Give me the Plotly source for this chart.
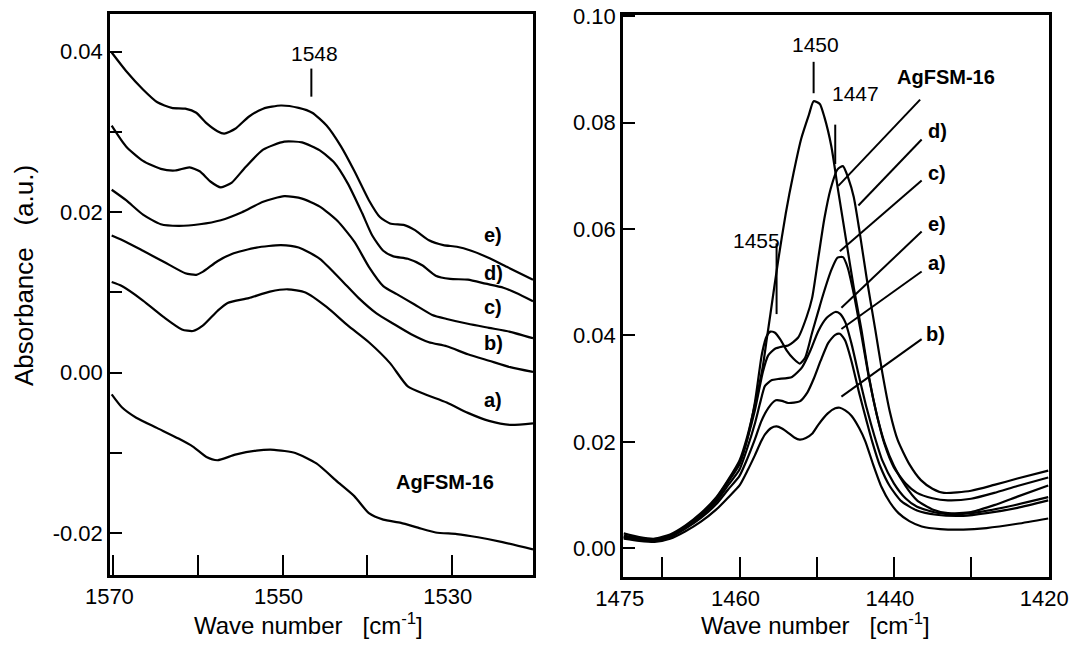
import plotly.graph_objects as go

################################## Data ##################################
# left panel (1570 - 1520 cm-1)
left_e_x = [1570.2, 1568.5, 1566.5, 1564.8, 1563.1, 1561.5, 1560.2, 1559.0, 1557.7, 1556.9, 1555.6, 1554.0, 1552.3, 1550.2, 1548.1, 1546.5, 1544.8, 1543.1, 1541.5, 1539.8, 1538.5, 1537.3, 1535.6, 1534.4, 1532.7, 1531.0, 1529.4, 1527.7, 1525.6, 1523.5, 1520.4]
left_e_y = [0.0399, 0.0376, 0.0353, 0.0337, 0.0330, 0.0329, 0.0324, 0.0311, 0.0301, 0.0298, 0.0304, 0.0319, 0.0329, 0.0333, 0.0330, 0.0324, 0.0308, 0.0282, 0.0251, 0.0215, 0.0194, 0.0186, 0.0184, 0.0178, 0.0165, 0.0159, 0.0157, 0.0152, 0.0143, 0.0132, 0.0116]

left_d_x = [1570.2, 1568.5, 1566.5, 1564.4, 1562.7, 1561.0, 1559.8, 1558.5, 1557.3, 1556.0, 1554.4, 1552.3, 1549.8, 1547.7, 1545.6, 1543.9, 1542.3, 1540.6, 1539.4, 1538.1, 1536.9, 1535.2, 1533.5, 1531.9, 1530.2, 1528.1, 1526.0, 1523.9, 1522.3, 1520.4]
left_d_y = [0.0308, 0.0282, 0.0264, 0.0254, 0.0252, 0.0256, 0.0251, 0.0238, 0.0231, 0.0237, 0.0256, 0.0278, 0.0288, 0.0287, 0.0277, 0.0262, 0.0236, 0.0199, 0.0171, 0.0152, 0.0145, 0.0142, 0.0134, 0.0121, 0.0117, 0.0116, 0.0111, 0.0106, 0.0099, 0.0089]

left_c_x = [1570.2, 1568.5, 1566.5, 1564.4, 1562.3, 1559.8, 1557.3, 1554.8, 1552.3, 1549.8, 1547.7, 1545.6, 1543.5, 1541.5, 1539.8, 1538.1, 1536.5, 1534.4, 1532.3, 1530.6, 1528.1, 1525.6, 1523.1, 1520.4]
left_c_y = [0.0228, 0.0215, 0.0197, 0.0185, 0.0183, 0.0185, 0.0190, 0.0200, 0.0213, 0.0220, 0.0217, 0.0207, 0.0189, 0.0163, 0.0132, 0.0108, 0.0098, 0.0085, 0.0072, 0.0067, 0.0061, 0.0056, 0.0051, 0.0043]

left_b_x = [1570.2, 1568.5, 1566.5, 1564.0, 1561.5, 1560.2, 1559.4, 1557.7, 1556.0, 1553.1, 1550.2, 1548.1, 1545.6, 1543.1, 1541.0, 1538.9, 1536.9, 1534.8, 1532.7, 1530.6, 1528.1, 1525.6, 1523.1, 1520.4]
left_b_y = [0.0171, 0.0163, 0.0152, 0.0138, 0.0124, 0.0122, 0.0126, 0.0139, 0.0148, 0.0156, 0.0159, 0.0156, 0.0142, 0.0116, 0.0093, 0.0074, 0.0061, 0.0048, 0.0038, 0.0033, 0.0023, 0.0015, 0.0007, 0.0001]

left_a_x = [1570.2, 1569.0, 1566.5, 1564.0, 1561.9, 1560.6, 1559.4, 1557.7, 1556.5, 1554.0, 1551.5, 1549.4, 1547.3, 1544.8, 1542.3, 1539.8, 1537.3, 1535.2, 1533.1, 1530.6, 1528.1, 1525.6, 1523.1, 1520.4]
left_a_y = [0.0113, 0.0108, 0.0090, 0.0069, 0.0054, 0.0052, 0.0059, 0.0077, 0.0087, 0.0093, 0.0101, 0.0104, 0.0100, 0.0082, 0.0059, 0.0038, 0.0012, -0.0017, -0.0027, -0.0037, -0.0050, -0.0060, -0.0065, -0.0063]

left_ag_x = [1570.2, 1569.0, 1567.3, 1564.8, 1562.3, 1560.6, 1559.0, 1557.7, 1555.6, 1553.1, 1551.0, 1548.5, 1546.0, 1543.5, 1541.5, 1539.8, 1538.1, 1536.0, 1534.0, 1531.9, 1529.4, 1526.9, 1524.0, 1520.4]
left_ag_y = [-0.0027, -0.0043, -0.0056, -0.0069, -0.0082, -0.0092, -0.0105, -0.0109, -0.0102, -0.0097, -0.0096, -0.0100, -0.0113, -0.0136, -0.0154, -0.0175, -0.0183, -0.0187, -0.0193, -0.0199, -0.0201, -0.0205, -0.0211, -0.0220]

# right panel (1475 - 1420 cm-1)
right_ag_x = [1475, 1473, 1471, 1469, 1467, 1465, 1463, 1461.5, 1460, 1459, 1458, 1457, 1456.5, 1456, 1455, 1454, 1453, 1452, 1451, 1450.4, 1449.6, 1449, 1448.1, 1447.2, 1446.2, 1445.2, 1444.2, 1443.2, 1442.2, 1441.2, 1440, 1438.5, 1437, 1435, 1433, 1430, 1427, 1424, 1420]
right_ag_y = [0.0028, 0.0021, 0.0018, 0.0026, 0.0043, 0.0066, 0.0096, 0.0128, 0.0165, 0.0210, 0.0270, 0.0340, 0.0390, 0.0440, 0.0540, 0.0630, 0.0705, 0.0770, 0.0815, 0.0840, 0.0835, 0.0810, 0.0755, 0.0670, 0.0580, 0.0490, 0.0410, 0.0320, 0.0250, 0.0195, 0.0152, 0.0122, 0.0104, 0.0094, 0.0090, 0.0093, 0.0104, 0.0117, 0.0133]

right_d_x = [1475, 1473, 1471, 1469, 1467, 1465, 1463, 1461.5, 1460, 1459, 1458, 1457.5, 1457, 1456.3, 1455.4, 1454.5, 1453.7, 1452.4, 1451.3, 1450.6, 1449.8, 1449, 1448.2, 1447.3, 1446.6, 1445.9, 1445.2, 1444.5, 1443.5, 1442.4, 1441.5, 1440.5, 1439.5, 1438, 1436.5, 1435, 1433.5, 1430, 1427, 1424, 1420]
right_d_y = [0.0024, 0.0019, 0.0016, 0.0024, 0.0041, 0.0064, 0.0094, 0.0126, 0.0160, 0.0205, 0.0260, 0.0295, 0.0330, 0.0362, 0.0375, 0.0379, 0.0381, 0.0396, 0.0435, 0.0470, 0.0545, 0.0620, 0.0675, 0.0712, 0.0718, 0.0695, 0.0660, 0.0600, 0.0505, 0.0410, 0.0330, 0.0255, 0.0203, 0.0158, 0.0128, 0.0112, 0.0104, 0.0108, 0.0119, 0.0131, 0.0146]

right_c_x = [1475, 1473, 1471, 1469, 1467, 1465, 1463, 1461.5, 1460, 1459, 1458, 1457.1, 1456.5, 1456, 1455.4, 1454.7, 1453.9, 1453, 1452.2, 1451.5, 1450.6, 1449.8, 1449.2, 1448.1, 1447.3, 1446.6, 1446, 1445.2, 1444.2, 1443.2, 1442.2, 1441.2, 1440, 1438.5, 1437, 1435, 1433, 1430, 1427, 1424, 1420]
right_c_y = [0.0022, 0.0018, 0.0015, 0.0023, 0.0040, 0.0062, 0.0092, 0.0124, 0.0158, 0.0205, 0.0275, 0.0365, 0.0398, 0.0407, 0.0405, 0.0392, 0.0372, 0.0356, 0.0347, 0.0358, 0.0405, 0.0445, 0.0475, 0.0523, 0.0546, 0.0547, 0.0528, 0.0478, 0.0400, 0.0318, 0.0250, 0.0198, 0.0155, 0.0117, 0.0090, 0.0073, 0.0066, 0.0068, 0.0081, 0.0097, 0.0118]

right_e_x = [1475, 1473, 1471, 1469, 1467, 1465, 1463, 1461.5, 1460, 1459, 1458, 1457.3, 1456.7, 1455.8, 1455, 1453.2, 1451.9, 1450.8, 1449.8, 1448.7, 1447.6, 1447, 1446.3, 1445.5, 1444.5, 1443.5, 1442.5, 1441.5, 1440, 1438.5, 1437, 1434.5, 1432, 1429, 1425, 1420]
right_e_y = [0.0020, 0.0017, 0.0015, 0.0022, 0.0039, 0.0060, 0.0088, 0.0118, 0.0148, 0.0188, 0.0235, 0.0275, 0.0305, 0.0316, 0.0318, 0.0322, 0.0340, 0.0372, 0.0408, 0.0433, 0.0444, 0.0441, 0.0425, 0.0385, 0.0322, 0.0262, 0.0210, 0.0165, 0.0122, 0.0094, 0.0078, 0.0067, 0.0064, 0.0068, 0.0079, 0.0096]

right_a_x = [1475, 1473, 1471, 1469, 1467, 1465, 1463, 1461.5, 1460, 1459, 1458, 1457.2, 1456.3, 1455.3, 1454.5, 1453.7, 1452.2, 1451.2, 1450.4, 1449.5, 1448.5, 1447.6, 1447, 1446.3, 1445.5, 1444.5, 1443.5, 1442.8, 1441.8, 1440.5, 1439, 1437, 1434.5, 1431, 1428, 1424, 1420]
right_a_y = [0.0021, 0.0016, 0.0014, 0.0021, 0.0037, 0.0057, 0.0083, 0.0110, 0.0136, 0.0168, 0.0205, 0.0238, 0.0263, 0.0278, 0.0277, 0.0273, 0.0276, 0.0293, 0.0318, 0.0352, 0.0386, 0.0401, 0.0403, 0.0390, 0.0352, 0.0292, 0.0237, 0.0200, 0.0155, 0.0116, 0.0088, 0.0071, 0.0063, 0.0061, 0.0066, 0.0076, 0.0090]

right_b_x = [1475, 1473, 1471, 1469, 1467, 1465, 1463, 1461.5, 1460, 1459, 1458, 1457.2, 1456.7, 1455.9, 1455.2, 1454.5, 1453.7, 1452.9, 1452.2, 1451.4, 1450.6, 1449.8, 1448.6, 1447.6, 1447, 1446.3, 1445.5, 1444.5, 1443.7, 1442.7, 1441.6, 1440.5, 1439.4, 1438, 1436.4, 1434, 1431, 1428, 1424, 1420]
right_b_y = [0.0018, 0.0014, 0.0012, 0.0018, 0.0032, 0.0050, 0.0073, 0.0095, 0.0118, 0.0145, 0.0175, 0.0201, 0.0214, 0.0226, 0.0229, 0.0225, 0.0217, 0.0208, 0.0204, 0.0207, 0.0215, 0.0232, 0.0253, 0.0263, 0.0264, 0.0259, 0.0249, 0.0226, 0.0201, 0.0158, 0.0115, 0.0086, 0.0066, 0.0051, 0.0041, 0.0036, 0.0035, 0.0038, 0.0046, 0.0056]

# ticks (labelled + unlabelled minor marks)
left_xticks = [1570, 1550, 1530]
left_xminor = [1560, 1540]
left_yticks = [-0.02, 0.00, 0.02, 0.04]
left_yticktext = ['-0.02', '0.00', '0.02', '0.04']
left_yminor = [-0.01, 0.01, 0.03]
right_xticks = [1475, 1460, 1440, 1420]
right_xminor = [1470, 1450, 1430]
right_yticks = [0.00, 0.02, 0.04, 0.06, 0.08, 0.10]
right_yticktext = ['0.00', '0.02', '0.04', '0.06', '0.08', '0.10']
############################################################################

FONT = 'Liberation Sans, Arial, sans-serif'
W, H = 1081, 650


def px(v):
    return v / W


def py(v):
    return 1 - v / H


fig = go.Figure()

left = [(left_e_x, left_e_y), (left_d_x, left_d_y), (left_c_x, left_c_y),
        (left_b_x, left_b_y), (left_a_x, left_a_y), (left_ag_x, left_ag_y)]
for xs, ys in left:
    fig.add_trace(go.Scatter(x=xs, y=ys, mode='lines', xaxis='x', yaxis='y',
                             line=dict(color='black', width=2.2, shape='spline', smoothing=0.6),
                             showlegend=False, hoverinfo='skip'))

right = [(right_ag_x, right_ag_y), (right_d_x, right_d_y), (right_c_x, right_c_y),
         (right_e_x, right_e_y), (right_a_x, right_a_y), (right_b_x, right_b_y)]
for xs, ys in right:
    fig.add_trace(go.Scatter(x=xs, y=ys, mode='lines', xaxis='x2', yaxis='y2',
                             line=dict(color='black', width=2.2, shape='spline', smoothing=0.6),
                             showlegend=False, hoverinfo='skip'))

axis_style = dict(showline=True, linecolor='black', linewidth=2.5, mirror=True,
                  ticks='inside', tickcolor='black', tickwidth=2,
                  showgrid=False, zeroline=False, automargin=False,
                  ticklabeloverflow='allow',
                  tickfont=dict(family=FONT, size=22, color='black'))

fig.update_layout(
    width=W, height=H,
    margin=dict(l=0, r=0, t=0, b=0),
    paper_bgcolor='white', plot_bgcolor='white',
    xaxis=dict(axis_style, domain=[px(110), px(533)], range=[1570.4, 1520.4],
               tickmode='array', tickvals=left_xticks, ticktext=[str(v) for v in left_xticks],
               ticklen=20, ticklabelstandoff=0, ticklabelshift=4, anchor='y',
               minor=dict(tickmode='array', tickvals=left_xminor, ticks='inside',
                          ticklen=20, tickwidth=2, tickcolor='black')),
    yaxis=dict(axis_style, domain=[py(575), py(14)], range=[-0.0252, 0.0447],
               tickmode='array', tickvals=left_yticks, ticktext=left_yticktext,
               ticklen=12, anchor='x',
               minor=dict(tickmode='array', tickvals=left_yminor, ticks='inside',
                          ticklen=12, tickwidth=2, tickcolor='black')),
    xaxis2=dict(axis_style, domain=[px(623), px(1049)], range=[1475.1, 1419.9],
                tickmode='array', tickvals=right_xticks, ticktext=[str(v) for v in right_xticks],
                ticklen=20, ticklabelstandoff=0, ticklabelshift=4, anchor='y2',
                minor=dict(tickmode='array', tickvals=right_xminor, ticks='inside',
                           ticklen=20, tickwidth=2, tickcolor='black')),
    yaxis2=dict(axis_style, domain=[py(577), py(15)], range=[-0.0054, 0.1002],
                tickmode='array', tickvals=right_yticks, ticktext=right_yticktext,
                ticklen=12, anchor='x2'),
)

# peak markers
markers = [('x', 'y', 1546.6, 0.0344, 0.0379),
           ('x2', 'y2', 1450.4, 0.0855, 0.0914),
           ('x2', 'y2', 1447.6, 0.0722, 0.0796),
           ('x2', 'y2', 1455.2, 0.0440, 0.0573)]
for xr, yr, x, y0, y1 in markers:
    fig.add_shape(type='line', xref=xr, yref=yr, x0=x, x1=x, y0=y0, y1=y1,
                  line=dict(color='black', width=2))

peak_labels = [('x', 'y', 1546.2, 0.0398, '1548'),
               ('x2', 'y2', 1450.2, 0.0946, '1450'),
               ('x2', 'y2', 1445.0, 0.0855, '1447'),
               ('x2', 'y2', 1457.8, 0.0579, '1455')]
for xr, yr, x, y, t in peak_labels:
    fig.add_annotation(xref=xr, yref=yr, x=x, y=y, text=t, showarrow=False,
                       xanchor='center', yanchor='middle',
                       font=dict(family=FONT, size=21, color='black'))

# curve labels, left panel
left_labels = [(1525.1, 0.0172, 'e)'), (1525.1, 0.0124, 'd)'), (1525.1, 0.0082, 'c)'),
               (1525.1, 0.0037, 'b)'), (1525.1, -0.0034, 'a)'), (1530.8, -0.0136, 'AgFSM-16')]
for x, y, t in left_labels:
    fig.add_annotation(xref='x', yref='y', x=x, y=y, text='<b>' + t + '</b>', showarrow=False,
                       xanchor='center', yanchor='middle',
                       font=dict(family=FONT, size=20, color='black'))

# curve labels with leader lines, right panel
right_labels = [(1433.3, 0.0886, 'AgFSM-16', 1436.6, 0.0843, 1447.2, 0.0681),
                (1434.4, 0.0784, 'd)', 1436.4, 0.0768, 1444.6, 0.0644),
                (1434.4, 0.0706, 'c)', 1436.4, 0.0691, 1447.0, 0.0558),
                (1434.4, 0.0610, 'e)', 1436.4, 0.0595, 1446.8, 0.0452),
                (1434.4, 0.0536, 'a)', 1436.4, 0.0520, 1446.8, 0.0412),
                (1434.6, 0.0403, 'b)', 1436.4, 0.0393, 1446.8, 0.0285)]
for x, y, t, lx0, ly0, lx1, ly1 in right_labels:
    fig.add_annotation(xref='x2', yref='y2', x=x, y=y, text='<b>' + t + '</b>', showarrow=False,
                       xanchor='center', yanchor='middle',
                       font=dict(family=FONT, size=20, color='black'))
    fig.add_shape(type='line', xref='x2', yref='y2', x0=lx0, y0=ly0, x1=lx1, y1=ly1,
                  line=dict(color='black', width=2))

# axis titles
sp = '\u00a0\u00a0\u00a0'
for cx in [308, 815]:
    fig.add_annotation(xref='paper', yref='paper', x=px(cx), y=py(624),
                       xanchor='center', yanchor='middle',
                       text='Wave number' + sp + '[cm<sup>-1</sup>]', showarrow=False,
                       font=dict(family=FONT, size=24, color='black'))
fig.add_annotation(xref='paper', yref='paper', x=px(24), y=py(276), textangle=-90,
                   xanchor='center', yanchor='middle',
                   text='Absorbance' + sp + '(a.u.)', showarrow=False,
                   font=dict(family=FONT, size=26, color='black'))

# drop the page's default body margin so the figure sits at the window's corner
fig.write_html("out.html", config={'displayModeBar': False},
               post_script="document.body.style.margin='0px';")
